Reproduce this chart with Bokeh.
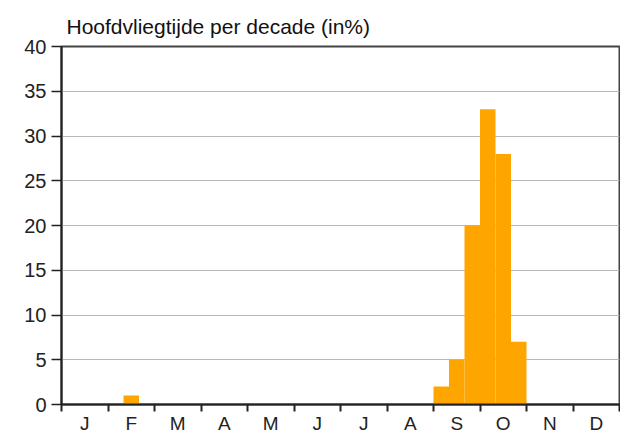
from bokeh.plotting import figure
from bokeh.models import FixedTicker, ColumnDataSource, Range1d
from bokeh.embed import file_html
from bokeh.resources import INLINE

# ---- data ----
title_text = "Hoofdvliegtijde per decade (in%)"
months = ["J", "F", "M", "A", "M", "J", "J", "A", "S", "O", "N", "D"]
# 36 decades (3 per month), percentage of flight time
pct = [0, 0, 0,   # J
       0, 1, 0,   # F
       0, 0, 0,   # M
       0, 0, 0,   # A
       0, 0, 0,   # M
       0, 0, 0,   # J
       0, 0, 0,   # J
       0, 0, 0,   # A
       2, 5, 20,  # S
       33, 28, 7, # O
       0, 0, 0,   # N
       0, 0, 0]   # D
y_ticks = [0, 5, 10, 15, 20, 25, 30, 35, 40]

decade_x = [i + 0.5 for i in range(len(pct))]
month_centers = [3 * k + 1.5 for k in range(len(months))]
month_bounds = [3 * k for k in range(len(months) + 1)]

src = ColumnDataSource(dict(x=decade_x, top=pct))

FONT = "Liberation Sans"

p = figure(width=620, height=436, output_backend="svg", toolbar_location=None,
           x_range=Range1d(0, 36), y_range=Range1d(0, 40),
           min_border_left=61, min_border_right=1, min_border_top=46, min_border_bottom=31)

p.title.text = title_text
p.title.text_font = FONT
p.title.text_font_size = "21px"
p.title.text_font_style = "normal"
p.title.text_color = "#111111"
p.title.align = "left"
p.title.offset = 5
p.title.standoff = 17

p.vbar(x="x", top="top", width=1.0, bottom=0, source=src,
       fill_color="#ffa500", line_color=None)

# x axis: labels at month centers, ticks at month boundaries
xa = p.xaxis[0]
xa.ticker = FixedTicker(ticks=month_centers, minor_ticks=month_bounds)
xa.major_label_overrides = {c: m for c, m in zip(month_centers, months)}
xa.major_tick_line_color = None
xa.major_tick_out = 0
xa.major_tick_in = 0
xa.minor_tick_line_color = "#222222"
xa.minor_tick_line_width = 2
xa.minor_tick_out = 7
xa.minor_tick_in = 0
xa.major_label_standoff = 1
xa.major_label_text_font = FONT
xa.major_label_text_font_size = "19px"
xa.major_label_text_color = "#222222"
xa.axis_line_color = "#222222"
xa.axis_line_width = 2

ya = p.yaxis[0]
ya.ticker = FixedTicker(ticks=y_ticks)
ya.major_tick_out = 10
ya.major_tick_in = 0
ya.major_tick_line_color = "#222222"
ya.major_tick_line_width = 1.5
ya.minor_tick_line_color = None
ya.major_label_standoff = 5
ya.major_label_text_font = FONT
ya.major_label_text_font_size = "20px"
ya.major_label_text_color = "#222222"
ya.axis_line_color = "#222222"
ya.axis_line_width = 2

p.xgrid.grid_line_color = None
p.ygrid.ticker = FixedTicker(ticks=y_ticks)
p.ygrid.grid_line_color = "#b8b8b8"
p.ygrid.grid_line_width = 1.2

p.outline_line_color = "#444444"
p.outline_line_width = 2
p.background_fill_color = "white"
p.border_fill_color = "white"

open("out.html", "w").write(file_html(p, INLINE))
